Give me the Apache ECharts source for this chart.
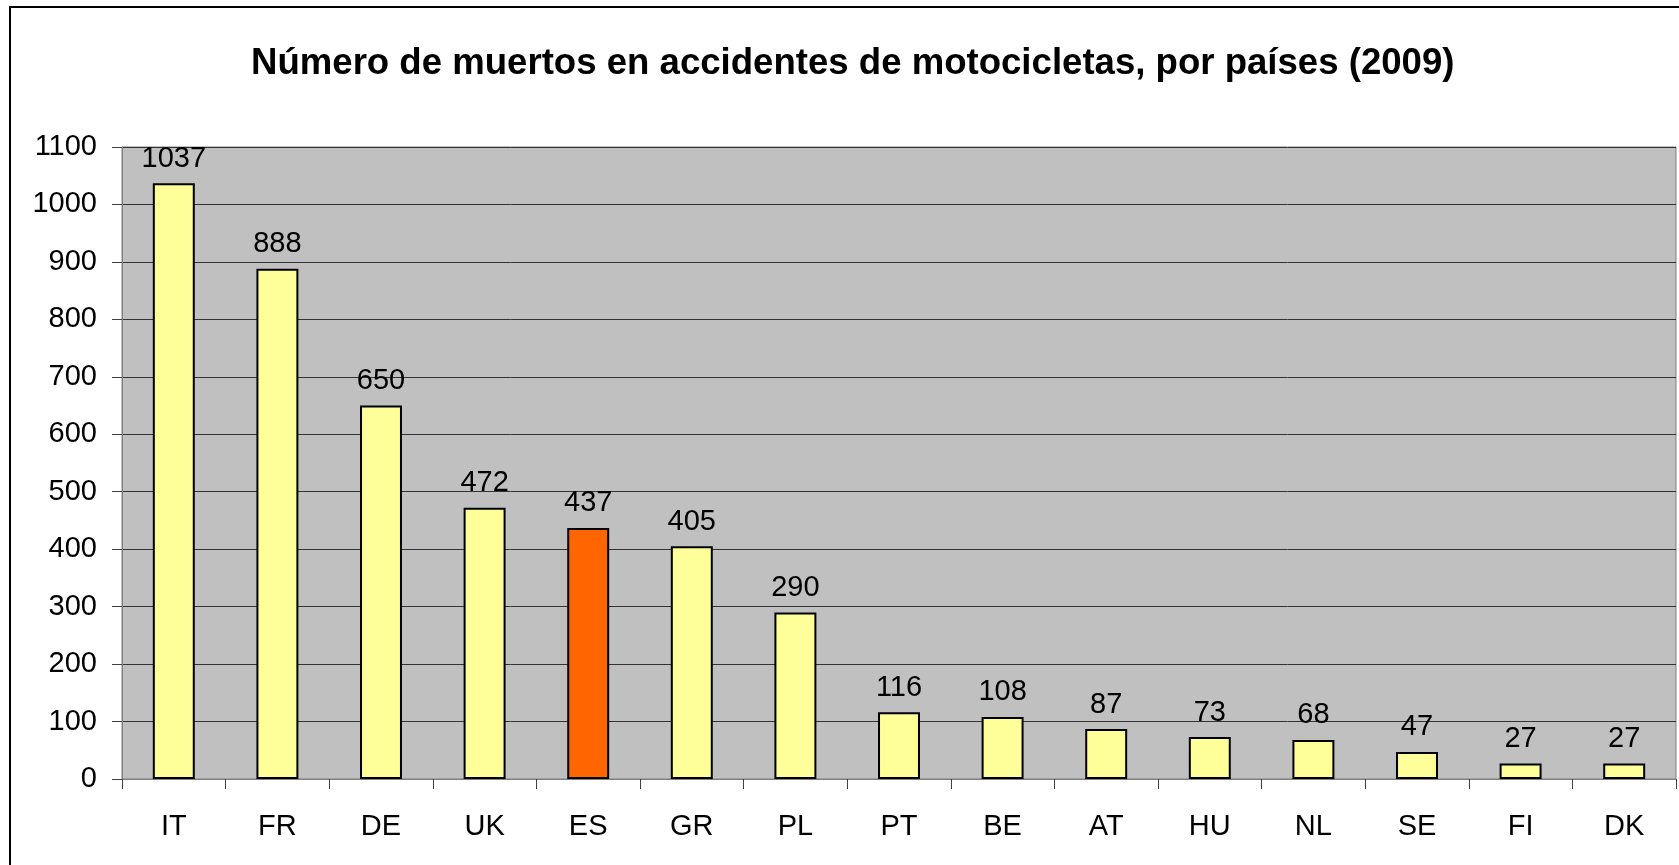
<!DOCTYPE html>
<html>
<head>
<meta charset="utf-8">
<script src="https://cdn.jsdelivr.net/npm/echarts@6/dist/echarts.min.js"></script>
<style>
html,body{margin:0;padding:0;background:#fff;}
#c{width:1679px;height:865px;}
</style>
</head>
<body>
<div id="c"></div>
<script>
const titleText = 'Número de muertos en accidentes de motocicletas, por países (2009)';
const categories = ['IT','FR','DE','UK','ES','GR','PL','PT','BE','AT','HU','NL','SE','FI','DK'];
const values = [1037, 888, 650, 472, 437, 405, 290, 116, 108, 87, 73, 68, 47, 27, 27];
const highlight = 'ES';
const yTicks = {min: 0, max: 1100, interval: 100};

const font = '"Liberation Sans", Arial, sans-serif';
const chart = echarts.init(document.getElementById('c'));
chart.setOption({
  animation: false,
  backgroundColor: '#fff',
  graphic: [{
    type: 'rect', z: 100, silent: true,
    shape: {x: 10, y: 7, width: 1720, height: 900},
    style: {fill: 'none', stroke: '#000', lineWidth: 2}
  }],
  title: {
    text: titleText, left: 246, top: 40,
    textStyle: {fontFamily: font, fontSize: 36.6, fontWeight: 'bold', color: '#000'}
  },
  grid: {
    left: 122, top: 147, right: 3, bottom: 86,
    show: true, backgroundColor: '#C0C0C0', borderColor: '#808080', borderWidth: 1
  },
  xAxis: {
    type: 'category', data: categories,
    axisLine: {lineStyle: {color: '#808080', width: 1}},
    axisTick: {show: true, length: 10, lineStyle: {color: '#404040'}},
    axisLabel: {margin: 33, fontFamily: font, fontSize: 29, color: '#000'}
  },
  yAxis: {
    type: 'value', min: yTicks.min, max: yTicks.max, interval: yTicks.interval,
    axisLine: {show: true, lineStyle: {color: '#808080', width: 1}},
    axisTick: {show: true, length: 10, lineStyle: {color: '#404040'}},
    axisLabel: {margin: 25, fontFamily: font, fontSize: 29, color: '#000', formatter: v => String(v)},
    splitLine: {lineStyle: {color: '#333', width: 1}}
  },
  series: [{
    type: 'bar',
    data: values.map((v, i) => ({
      value: v,
      itemStyle: {color: categories[i] === highlight ? '#FF6600' : '#FFFF99'}
    })),
    barWidth: '40.5%',
    itemStyle: {borderColor: '#000', borderWidth: 2},
    label: {show: true, position: 'top', distance: 10, fontFamily: font, fontSize: 29, color: '#000'}
  }]
});
</script>
</body>
</html>
